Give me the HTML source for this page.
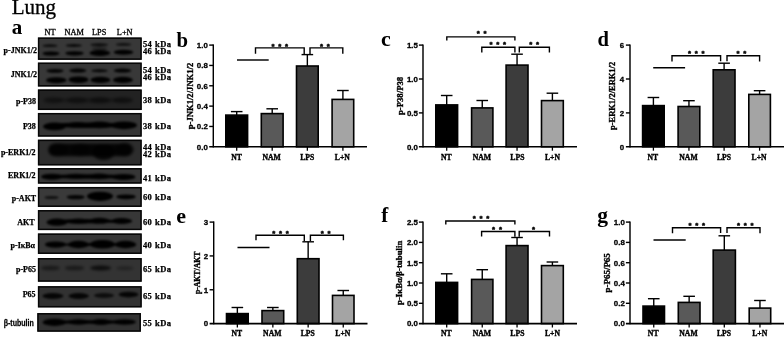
<!DOCTYPE html>
<html lang="en"><head><meta charset="utf-8"><title>Lung</title>
<style>html,body{margin:0;padding:0;background:#fff}body{width:784px;height:337px;overflow:hidden}svg{display:block}.s{font-family:"Liberation Serif", "DejaVu Serif", serif;font-weight:400}.sb{font-family:"Liberation Serif", "DejaVu Serif", serif;font-weight:700}.a{font-family:"Liberation Sans", "DejaVu Sans", sans-serif;font-weight:400}.ab{font-family:"Liberation Sans", "DejaVu Sans", sans-serif;font-weight:700}text{fill:#000}</style></head><body>
<svg width="784" height="337" viewBox="0 0 784 337">
<defs><filter id="bl0" x="-20%" y="-50%" width="140%" height="200%"><feGaussianBlur stdDeviation="1.0"/></filter><filter id="bl1" x="-20%" y="-50%" width="140%" height="200%"><feGaussianBlur stdDeviation="1.0"/></filter><filter id="bl2" x="-20%" y="-50%" width="140%" height="200%"><feGaussianBlur stdDeviation="1.6"/></filter><filter id="bl3" x="-20%" y="-50%" width="140%" height="200%"><feGaussianBlur stdDeviation="1.1"/></filter><filter id="bl4" x="-20%" y="-50%" width="140%" height="200%"><feGaussianBlur stdDeviation="1.7"/></filter><filter id="bl5" x="-20%" y="-50%" width="140%" height="200%"><feGaussianBlur stdDeviation="1.0"/></filter><filter id="bl6" x="-20%" y="-50%" width="140%" height="200%"><feGaussianBlur stdDeviation="1.0"/></filter><filter id="bl7" x="-20%" y="-50%" width="140%" height="200%"><feGaussianBlur stdDeviation="1.1"/></filter><filter id="bl8" x="-20%" y="-50%" width="140%" height="200%"><feGaussianBlur stdDeviation="1.0"/></filter><filter id="bl9" x="-20%" y="-50%" width="140%" height="200%"><feGaussianBlur stdDeviation="1.4"/></filter><filter id="bl10" x="-20%" y="-50%" width="140%" height="200%"><feGaussianBlur stdDeviation="1.3"/></filter><filter id="bl11" x="-20%" y="-50%" width="140%" height="200%"><feGaussianBlur stdDeviation="1.1"/></filter></defs>
<rect width="784" height="337" fill="#fff"/>
<text class="s" x="11.8" y="14.2" font-size="21" text-anchor="start" stroke="#000" stroke-width="0.3">Lung</text>
<text class="sb" x="11.8" y="33.8" font-size="21" text-anchor="start">a</text>
<clipPath id="cp0"><rect x="38.0" y="37.6" width="103.60" height="22.10"/></clipPath>
<rect x="38.0" y="37.6" width="103.60" height="22.10" fill="#383838"/>
<g clip-path="url(#cp0)"><g filter="url(#bl0)">
<ellipse cx="50.0" cy="45.7" rx="7.6" ry="1.4" fill="#000" opacity="0.8"/>
<ellipse cx="73.8" cy="45.5" rx="8.2" ry="1.5" fill="#000" opacity="0.85"/>
<ellipse cx="99.2" cy="44.7" rx="9.0" ry="1.5" fill="#000" opacity="0.8"/>
<ellipse cx="123.5" cy="44.4" rx="7.8" ry="1.4" fill="#000" opacity="0.75"/>
<ellipse cx="99.5" cy="48.6" rx="8.0" ry="2.0" fill="#000" opacity="0.35"/>
<ellipse cx="51.0" cy="53.5" rx="8.6" ry="2.0" fill="#000" opacity="1"/>
<ellipse cx="74.5" cy="53.3" rx="9.4" ry="2.1" fill="#000" opacity="1"/>
<ellipse cx="99.8" cy="53.0" rx="10.4" ry="3.0" fill="#000" opacity="1"/>
<ellipse cx="123.5" cy="52.3" rx="9.8" ry="2.5" fill="#000" opacity="1"/>
</g></g>
<rect x="38.6" y="38.2" width="102.40" height="20.90" fill="none" stroke="#070707" stroke-width="1.5"/>
<text class="sb" x="36.9" y="53.0" font-size="8.0" text-anchor="end" stroke="#000" stroke-width="0.25">p-JNK1/2</text>
<text class="sb" x="142.9" y="46.6" font-size="8.5" text-anchor="start" textLength="28.1" lengthAdjust="spacing" stroke="#000" stroke-width="0.25">54 kDa</text>
<text class="sb" x="142.9" y="53.8" font-size="8.5" text-anchor="start" textLength="28.1" lengthAdjust="spacing" stroke="#000" stroke-width="0.25">46 kDa</text>
<clipPath id="cp1"><rect x="38.0" y="62.7" width="103.60" height="23.70"/></clipPath>
<rect x="38.0" y="62.7" width="103.60" height="23.70" fill="#383838"/>
<g clip-path="url(#cp1)"><g filter="url(#bl1)">
<ellipse cx="55.0" cy="70.8" rx="8.6" ry="1.9" fill="#000" opacity="0.95"/>
<ellipse cx="77.8" cy="70.6" rx="8.8" ry="2.0" fill="#000" opacity="0.95"/>
<ellipse cx="99.5" cy="70.8" rx="8.4" ry="1.5" fill="#000" opacity="0.9"/>
<ellipse cx="122.5" cy="70.6" rx="9.0" ry="2.0" fill="#000" opacity="0.95"/>
<ellipse cx="56.3" cy="80.2" rx="10.3" ry="3.0" fill="#000" opacity="1"/>
<ellipse cx="78.5" cy="79.7" rx="10.0" ry="3.3" fill="#000" opacity="1"/>
<ellipse cx="100.4" cy="79.9" rx="10.0" ry="3.1" fill="#000" opacity="1"/>
<ellipse cx="122.9" cy="79.9" rx="10.0" ry="3.1" fill="#000" opacity="1"/>
</g></g>
<rect x="38.6" y="63.300000000000004" width="102.40" height="22.50" fill="none" stroke="#070707" stroke-width="1.5"/>
<text class="sb" x="36.9" y="77.2" font-size="8.0" text-anchor="end" stroke="#000" stroke-width="0.25">JNK1/2</text>
<text class="sb" x="142.9" y="72.6" font-size="8.5" text-anchor="start" textLength="28.1" lengthAdjust="spacing" stroke="#000" stroke-width="0.25">54 kDa</text>
<text class="sb" x="142.9" y="79.8" font-size="8.5" text-anchor="start" textLength="28.1" lengthAdjust="spacing" stroke="#000" stroke-width="0.25">46 kDa</text>
<clipPath id="cp2"><rect x="38.0" y="89.6" width="103.60" height="20.30"/></clipPath>
<rect x="38.0" y="89.6" width="103.60" height="20.30" fill="#222222"/>
<g clip-path="url(#cp2)"><g filter="url(#bl2)">
<ellipse cx="53" cy="100.3" rx="10" ry="3.2" fill="#000" opacity="0.35"/>
<ellipse cx="77" cy="100.3" rx="10" ry="3.2" fill="#000" opacity="0.35"/>
<ellipse cx="100" cy="100.3" rx="10" ry="3.2" fill="#000" opacity="0.4"/>
<ellipse cx="123" cy="100.3" rx="10" ry="3.2" fill="#000" opacity="0.4"/>
<ellipse cx="89" cy="100.3" rx="44" ry="2.5" fill="#000" opacity="0.3"/>
</g></g>
<rect x="38.6" y="90.19999999999999" width="102.40" height="19.10" fill="none" stroke="#070707" stroke-width="1.5"/>
<text class="sb" x="36.0" y="103.6" font-size="8.0" text-anchor="end" stroke="#000" stroke-width="0.25">p-P38</text>
<text class="sb" x="142.9" y="103.3" font-size="8.5" text-anchor="start" textLength="28.1" lengthAdjust="spacing" stroke="#000" stroke-width="0.25">38 kDa</text>
<clipPath id="cp3"><rect x="38.0" y="113.1" width="103.60" height="23.40"/></clipPath>
<rect x="38.0" y="113.1" width="103.60" height="23.40" fill="#353535"/>
<g clip-path="url(#cp3)"><g filter="url(#bl3)">
<ellipse cx="54.5" cy="126.4" rx="11.5" ry="3.9" fill="#000" opacity="1"/>
<ellipse cx="77.5" cy="125.0" rx="11.5" ry="3.0" fill="#000" opacity="1"/>
<ellipse cx="99.5" cy="124.9" rx="12.0" ry="3.3" fill="#000" opacity="1"/>
<ellipse cx="124.0" cy="125.3" rx="13.0" ry="3.9" fill="#000" opacity="1"/>
<ellipse cx="89" cy="125.2" rx="44" ry="2.7" fill="#000" opacity="1"/>
</g></g>
<rect x="38.6" y="113.69999999999999" width="102.40" height="22.20" fill="none" stroke="#070707" stroke-width="1.5"/>
<text class="sb" x="35.8" y="129.0" font-size="8.0" text-anchor="end" stroke="#000" stroke-width="0.25">P38</text>
<text class="sb" x="142.9" y="129.3" font-size="8.5" text-anchor="start" textLength="28.1" lengthAdjust="spacing" stroke="#000" stroke-width="0.25">38 kDa</text>
<clipPath id="cp4"><rect x="38.0" y="139.8" width="103.60" height="25.50"/></clipPath>
<rect x="38.0" y="139.8" width="103.60" height="25.50" fill="#2d2d2d"/>
<g clip-path="url(#cp4)"><g filter="url(#bl4)">
<rect x="48.5" y="143.6" width="83.5" height="12.6" rx="6" fill="#000" opacity="0.88"/>
<ellipse cx="58.5" cy="149.8" rx="10.5" ry="6.8" fill="#000" opacity="0.6"/>
<ellipse cx="80.5" cy="149.8" rx="10.5" ry="6.8" fill="#000" opacity="0.55"/>
<ellipse cx="103.5" cy="152.0" rx="11.5" ry="8.0" fill="#000" opacity="0.85"/>
<ellipse cx="124.5" cy="149.6" rx="9.5" ry="7.0" fill="#000" opacity="0.6"/>
</g></g>
<rect x="38.6" y="140.4" width="102.40" height="24.30" fill="none" stroke="#070707" stroke-width="1.5"/>
<text class="sb" x="35.6" y="154.8" font-size="8.0" text-anchor="end" stroke="#000" stroke-width="0.25">p-ERK1/2</text>
<text class="sb" x="142.9" y="149.8" font-size="8.5" text-anchor="start" textLength="28.1" lengthAdjust="spacing" stroke="#000" stroke-width="0.25">44 kDa</text>
<text class="sb" x="142.9" y="157.3" font-size="8.5" text-anchor="start" textLength="28.1" lengthAdjust="spacing" stroke="#000" stroke-width="0.25">42 kDa</text>
<clipPath id="cp5"><rect x="38.0" y="168.2" width="103.60" height="15.30"/></clipPath>
<rect x="38.0" y="168.2" width="103.60" height="15.30" fill="#363636"/>
<g clip-path="url(#cp5)"><g filter="url(#bl5)">
<ellipse cx="52" cy="176.7" rx="11.0" ry="3.0" fill="#000" opacity="1"/>
<ellipse cx="76" cy="176.4" rx="11.0" ry="2.7" fill="#000" opacity="1"/>
<ellipse cx="99" cy="176.4" rx="11.0" ry="2.8" fill="#000" opacity="1"/>
<ellipse cx="123.5" cy="176.9" rx="12.0" ry="3.0" fill="#000" opacity="1"/>
<ellipse cx="88" cy="176.5" rx="46" ry="2.2" fill="#000" opacity="1"/>
</g></g>
<rect x="38.6" y="168.79999999999998" width="102.40" height="14.10" fill="none" stroke="#070707" stroke-width="1.5"/>
<text class="sb" x="35.6" y="178.0" font-size="8.0" text-anchor="end" stroke="#000" stroke-width="0.25">ERK1/2</text>
<text class="sb" x="142.9" y="180.6" font-size="8.5" text-anchor="start" textLength="28.1" lengthAdjust="spacing" stroke="#000" stroke-width="0.25">41 kDa</text>
<clipPath id="cp6"><rect x="38.0" y="187.1" width="103.60" height="19.70"/></clipPath>
<rect x="38.0" y="187.1" width="103.60" height="19.70" fill="#3a3a3a"/>
<g clip-path="url(#cp6)"><g filter="url(#bl6)">
<ellipse cx="51.6" cy="197.5" rx="7.2" ry="1.3" fill="#000" opacity="0.85"/>
<ellipse cx="75.7" cy="197.1" rx="9.2" ry="2.2" fill="#000" opacity="0.95"/>
<ellipse cx="100.0" cy="196.3" rx="13.0" ry="4.6" fill="#000" opacity="1"/>
<ellipse cx="126" cy="196.8" rx="9.8" ry="2.4" fill="#000" opacity="1"/>
</g></g>
<rect x="38.6" y="187.7" width="102.40" height="18.50" fill="none" stroke="#070707" stroke-width="1.5"/>
<text class="sb" x="36.2" y="200.5" font-size="8.0" text-anchor="end" stroke="#000" stroke-width="0.25">p-AKT</text>
<text class="sb" x="142.9" y="199.5" font-size="8.5" text-anchor="start" textLength="28.1" lengthAdjust="spacing" stroke="#000" stroke-width="0.25">60 kDa</text>
<clipPath id="cp7"><rect x="38.0" y="210.2" width="103.60" height="19.80"/></clipPath>
<rect x="38.0" y="210.2" width="103.60" height="19.80" fill="#373737"/>
<g clip-path="url(#cp7)"><g filter="url(#bl7)">
<ellipse cx="57" cy="222.2" rx="10.5" ry="3.6" fill="#000" opacity="1"/>
<ellipse cx="78.5" cy="221.3" rx="11.5" ry="2.7" fill="#000" opacity="1"/>
<ellipse cx="99.5" cy="220.8" rx="10.5" ry="3.0" fill="#000" opacity="1"/>
<ellipse cx="121.5" cy="221.0" rx="10.7" ry="3.0" fill="#000" opacity="1"/>
<ellipse cx="84" cy="221.3" rx="34" ry="2.2" fill="#000" opacity="1"/>
<ellipse cx="110" cy="221.0" rx="6" ry="1.2" fill="#000" opacity="1"/>
</g></g>
<rect x="38.6" y="210.79999999999998" width="102.40" height="18.60" fill="none" stroke="#070707" stroke-width="1.5"/>
<text class="sb" x="34.6" y="225.2" font-size="8.0" text-anchor="end" stroke="#000" stroke-width="0.25">AKT</text>
<text class="sb" x="142.9" y="224.5" font-size="8.5" text-anchor="start" textLength="28.1" lengthAdjust="spacing" stroke="#000" stroke-width="0.25">60 kDa</text>
<clipPath id="cp8"><rect x="38.0" y="233.6" width="103.60" height="20.20"/></clipPath>
<rect x="38.0" y="233.6" width="103.60" height="20.20" fill="#363636"/>
<g clip-path="url(#cp8)"><g filter="url(#bl8)">
<ellipse cx="55.5" cy="244.6" rx="10.6" ry="3.2" fill="#000" opacity="1"/>
<ellipse cx="78.5" cy="244.5" rx="10.6" ry="3.7" fill="#000" opacity="1"/>
<ellipse cx="102.5" cy="244.3" rx="12.6" ry="4.3" fill="#000" opacity="1"/>
<ellipse cx="125.5" cy="244.5" rx="10.8" ry="3.7" fill="#000" opacity="1"/>
<ellipse cx="90" cy="244.5" rx="40" ry="1.4" fill="#000" opacity="0.9"/>
</g></g>
<rect x="38.6" y="234.2" width="102.40" height="19.00" fill="none" stroke="#070707" stroke-width="1.5"/>
<text class="sb" x="35.0" y="247.8" font-size="8.0" text-anchor="end" stroke="#000" stroke-width="0.25">p-IκBα</text>
<text class="sb" x="142.9" y="247.8" font-size="8.5" text-anchor="start" textLength="28.1" lengthAdjust="spacing" stroke="#000" stroke-width="0.25">40 kDa</text>
<clipPath id="cp9"><rect x="38.0" y="258.2" width="103.60" height="23.40"/></clipPath>
<rect x="38.0" y="258.2" width="103.60" height="23.40" fill="#333333"/>
<g clip-path="url(#cp9)"><g filter="url(#bl9)">
<ellipse cx="50.5" cy="268.0" rx="9.5" ry="2.3" fill="#000" opacity="0.5"/>
<ellipse cx="74.5" cy="268.0" rx="9.8" ry="2.3" fill="#000" opacity="0.5"/>
<ellipse cx="100.7" cy="268.0" rx="10.5" ry="2.6" fill="#000" opacity="0.75"/>
<ellipse cx="124.8" cy="268.2" rx="8.8" ry="2.0" fill="#000" opacity="0.35"/>
</g></g>
<rect x="38.6" y="258.8" width="102.40" height="22.20" fill="none" stroke="#070707" stroke-width="1.5"/>
<text class="sb" x="36.0" y="271.6" font-size="8.0" text-anchor="end" stroke="#000" stroke-width="0.25">p-P65</text>
<text class="sb" x="142.9" y="271.6" font-size="8.5" text-anchor="start" textLength="28.1" lengthAdjust="spacing" stroke="#000" stroke-width="0.25">65 kDa</text>
<clipPath id="cp10"><rect x="38.0" y="286.3" width="103.60" height="21.00"/></clipPath>
<rect x="38.0" y="286.3" width="103.60" height="21.00" fill="#323232"/>
<g clip-path="url(#cp10)"><g filter="url(#bl10)">
<ellipse cx="52.9" cy="296.0" rx="10.6" ry="2.9" fill="#000" opacity="0.9"/>
<ellipse cx="78.7" cy="296.0" rx="10.3" ry="2.9" fill="#000" opacity="0.9"/>
<ellipse cx="104.0" cy="295.5" rx="10.0" ry="2.5" fill="#000" opacity="0.75"/>
<ellipse cx="128.5" cy="294.6" rx="10.0" ry="2.8" fill="#000" opacity="0.9"/>
</g></g>
<rect x="38.6" y="286.90000000000003" width="102.40" height="19.80" fill="none" stroke="#070707" stroke-width="1.5"/>
<text class="sb" x="35.6" y="297.3" font-size="8.0" text-anchor="end" stroke="#000" stroke-width="0.25">P65</text>
<text class="sb" x="142.9" y="298.8" font-size="8.5" text-anchor="start" textLength="28.1" lengthAdjust="spacing" stroke="#000" stroke-width="0.25">65 kDa</text>
<clipPath id="cp11"><rect x="37.4" y="313.2" width="103.40" height="18.40"/></clipPath>
<rect x="37.4" y="313.2" width="103.40" height="18.40" fill="#323232"/>
<g clip-path="url(#cp11)"><g filter="url(#bl11)">
<ellipse cx="54.5" cy="322.3" rx="12.0" ry="3.6" fill="#000" opacity="1"/>
<ellipse cx="78.5" cy="322.0" rx="10.5" ry="2.7" fill="#000" opacity="1"/>
<ellipse cx="101.0" cy="322.0" rx="10.5" ry="3.0" fill="#000" opacity="1"/>
<ellipse cx="124.5" cy="322.0" rx="11.5" ry="2.8" fill="#000" opacity="1"/>
<ellipse cx="90" cy="322.0" rx="44" ry="1.8" fill="#000" opacity="1"/>
</g></g>
<rect x="38.0" y="313.8" width="102.20" height="17.20" fill="none" stroke="#070707" stroke-width="1.5"/>
<text class="ab" x="33.8" y="325.6" font-size="8.6" text-anchor="end" stroke="#000" stroke-width="0.25" transform="translate(33.80 0) scale(0.82 1) translate(-33.80 0)">β-tubulin</text>
<text class="sb" x="142.9" y="325.9" font-size="8.5" text-anchor="start" textLength="28.1" lengthAdjust="spacing" stroke="#000" stroke-width="0.25">55 kDa</text>
<text class="s" x="50.0" y="35.0" font-size="8.3" text-anchor="middle" stroke="#000" stroke-width="0.3">NT</text>
<text class="s" x="74.3" y="35.0" font-size="8.3" text-anchor="middle" stroke="#000" stroke-width="0.3">NAM</text>
<text class="s" x="99.2" y="35.0" font-size="8.3" text-anchor="middle" stroke="#000" stroke-width="0.3">LPS</text>
<text class="s" x="124.7" y="35.0" font-size="8.3" text-anchor="middle" stroke="#000" stroke-width="0.3">L+N</text>
<text class="sb" x="176.4" y="46.7" font-size="20.8" text-anchor="start">b</text>
<path d="M213.30 44.40L213.30 147.50" stroke="#000" stroke-width="1.45" fill="none"/>
<text class="ab" x="207.8" y="149.60000000000002" font-size="7.9" text-anchor="end" stroke="#000" stroke-width="0.3">0.0</text>
<path d="M209.20 126.46L213.30 126.46" stroke="#000" stroke-width="1.4" fill="none"/>
<text class="ab" x="207.8" y="129.26000000000002" font-size="7.9" text-anchor="end" stroke="#000" stroke-width="0.3">0.2</text>
<path d="M209.20 106.12L213.30 106.12" stroke="#000" stroke-width="1.4" fill="none"/>
<text class="ab" x="207.8" y="108.92" font-size="7.9" text-anchor="end" stroke="#000" stroke-width="0.3">0.4</text>
<path d="M209.20 85.78L213.30 85.78" stroke="#000" stroke-width="1.4" fill="none"/>
<text class="ab" x="207.8" y="88.58" font-size="7.9" text-anchor="end" stroke="#000" stroke-width="0.3">0.6</text>
<path d="M209.20 65.44L213.30 65.44" stroke="#000" stroke-width="1.4" fill="none"/>
<text class="ab" x="207.8" y="68.24" font-size="7.9" text-anchor="end" stroke="#000" stroke-width="0.3">0.8</text>
<path d="M209.20 45.10L213.30 45.10" stroke="#000" stroke-width="1.4" fill="none"/>
<text class="ab" x="207.8" y="47.89999999999999" font-size="7.9" text-anchor="end" stroke="#000" stroke-width="0.3">1.0</text>
<text class="sb" font-size="8.3" text-anchor="middle" textLength="66.5" lengthAdjust="spacingAndGlyphs" stroke="#000" stroke-width="0.35" transform="translate(193.0 95.95) rotate(-90)">p-JNK1/2/JNK1/2</text>
<path d="M236.70 111.60L236.70 115.30" stroke="#000" stroke-width="1.4" fill="none"/>
<path d="M230.90 111.60L242.50 111.60" stroke="#000" stroke-width="1.4" fill="none"/>
<rect x="225.80" y="115.10" width="21.80" height="31.70" fill="#000000" stroke="#000" stroke-width="1.6"/>
<path d="M236.70 146.80L236.70 150.70" stroke="#000" stroke-width="1.3" fill="none"/>
<path d="M272.20 108.80L272.20 113.80" stroke="#000" stroke-width="1.4" fill="none"/>
<path d="M266.40 108.80L278.00 108.80" stroke="#000" stroke-width="1.4" fill="none"/>
<rect x="261.30" y="113.60" width="21.80" height="33.20" fill="#595959" stroke="#000" stroke-width="1.6"/>
<path d="M272.20 146.80L272.20 150.70" stroke="#000" stroke-width="1.3" fill="none"/>
<path d="M307.35 54.60L307.35 66.20" stroke="#000" stroke-width="1.4" fill="none"/>
<path d="M301.55 54.60L313.15 54.60" stroke="#000" stroke-width="1.4" fill="none"/>
<rect x="296.50" y="66.00" width="21.70" height="80.80" fill="#3c3c3c" stroke="#000" stroke-width="1.6"/>
<path d="M307.35 146.80L307.35 150.70" stroke="#000" stroke-width="1.3" fill="none"/>
<path d="M342.90 90.50L342.90 99.60" stroke="#000" stroke-width="1.4" fill="none"/>
<path d="M337.10 90.50L348.70 90.50" stroke="#000" stroke-width="1.4" fill="none"/>
<rect x="332.10" y="99.40" width="21.60" height="47.40" fill="#a4a4a4" stroke="#000" stroke-width="1.6"/>
<path d="M342.90 146.80L342.90 150.70" stroke="#000" stroke-width="1.3" fill="none"/>
<path d="M209.20 146.80L367.00 146.80" stroke="#000" stroke-width="1.6" fill="none"/>
<text class="sb" x="236.5" y="159.6" font-size="7.7" text-anchor="middle" stroke="#000" stroke-width="0.35">NT</text>
<text class="sb" x="271.7" y="159.6" font-size="7.7" text-anchor="middle" stroke="#000" stroke-width="0.35">NAM</text>
<text class="sb" x="307.2" y="159.6" font-size="7.7" text-anchor="middle" stroke="#000" stroke-width="0.35">LPS</text>
<text class="sb" x="342.3" y="159.6" font-size="7.7" text-anchor="middle" stroke="#000" stroke-width="0.35">L+N</text>
<path d="M255.5 53.8V47.9H304.2V54.0" stroke="#000" stroke-width="1.4" fill="none"/>
<path d="M310.0 54.0V47.9H342.8V53.8" stroke="#000" stroke-width="1.4" fill="none"/>
<path d="M237.00 60.00L268.70 60.00" stroke="#000" stroke-width="1.45" fill="none"/>
<text class="ab" x="272.90 279.70 286.50" y="49.00" font-size="7.8" text-anchor="middle" stroke="#000" stroke-width="0.45">***</text>
<text class="ab" x="321.50 328.30" y="49.00" font-size="7.8" text-anchor="middle" stroke="#000" stroke-width="0.45">**</text>
<text class="sb" x="380.9" y="46.0" font-size="22" text-anchor="start">c</text>
<path d="M423.00 44.40L423.00 147.50" stroke="#000" stroke-width="1.45" fill="none"/>
<text class="ab" x="417.9" y="149.60000000000002" font-size="7.9" text-anchor="end" stroke="#000" stroke-width="0.3">0.0</text>
<path d="M418.90 112.90L423.00 112.90" stroke="#000" stroke-width="1.4" fill="none"/>
<text class="ab" x="417.9" y="115.7" font-size="7.9" text-anchor="end" stroke="#000" stroke-width="0.3">0.5</text>
<path d="M418.90 79.00L423.00 79.00" stroke="#000" stroke-width="1.4" fill="none"/>
<text class="ab" x="417.9" y="81.8" font-size="7.9" text-anchor="end" stroke="#000" stroke-width="0.3">1.0</text>
<path d="M418.90 45.10L423.00 45.10" stroke="#000" stroke-width="1.4" fill="none"/>
<text class="ab" x="417.9" y="47.900000000000006" font-size="7.9" text-anchor="end" stroke="#000" stroke-width="0.3">1.5</text>
<text class="sb" font-size="8.3" text-anchor="middle" textLength="38.3" lengthAdjust="spacingAndGlyphs" stroke="#000" stroke-width="0.35" transform="translate(402.7 95.95) rotate(-90)">p-P38/P38</text>
<path d="M446.70 95.50L446.70 105.10" stroke="#000" stroke-width="1.4" fill="none"/>
<path d="M440.90 95.50L452.50 95.50" stroke="#000" stroke-width="1.4" fill="none"/>
<rect x="435.80" y="104.90" width="21.80" height="41.90" fill="#000000" stroke="#000" stroke-width="1.6"/>
<path d="M446.70 146.80L446.70 150.70" stroke="#000" stroke-width="1.3" fill="none"/>
<path d="M482.25 100.50L482.25 108.10" stroke="#000" stroke-width="1.4" fill="none"/>
<path d="M476.45 100.50L488.05 100.50" stroke="#000" stroke-width="1.4" fill="none"/>
<rect x="471.60" y="107.90" width="21.30" height="38.90" fill="#595959" stroke="#000" stroke-width="1.6"/>
<path d="M482.25 146.80L482.25 150.70" stroke="#000" stroke-width="1.3" fill="none"/>
<path d="M517.05 54.20L517.05 65.30" stroke="#000" stroke-width="1.4" fill="none"/>
<path d="M511.25 54.20L522.85 54.20" stroke="#000" stroke-width="1.4" fill="none"/>
<rect x="506.10" y="65.10" width="21.90" height="81.70" fill="#3c3c3c" stroke="#000" stroke-width="1.6"/>
<path d="M517.05 146.80L517.05 150.70" stroke="#000" stroke-width="1.3" fill="none"/>
<path d="M552.40 93.20L552.40 100.80" stroke="#000" stroke-width="1.4" fill="none"/>
<path d="M546.60 93.20L558.20 93.20" stroke="#000" stroke-width="1.4" fill="none"/>
<rect x="541.50" y="100.60" width="21.80" height="46.20" fill="#a4a4a4" stroke="#000" stroke-width="1.6"/>
<path d="M552.40 146.80L552.40 150.70" stroke="#000" stroke-width="1.3" fill="none"/>
<path d="M418.90 146.80L577.00 146.80" stroke="#000" stroke-width="1.6" fill="none"/>
<text class="sb" x="446.3" y="159.6" font-size="7.7" text-anchor="middle" stroke="#000" stroke-width="0.35">NT</text>
<text class="sb" x="481.9" y="159.6" font-size="7.7" text-anchor="middle" stroke="#000" stroke-width="0.35">NAM</text>
<text class="sb" x="517.4000000000001" y="159.6" font-size="7.7" text-anchor="middle" stroke="#000" stroke-width="0.35">LPS</text>
<text class="sb" x="552.5" y="159.6" font-size="7.7" text-anchor="middle" stroke="#000" stroke-width="0.35">L+N</text>
<path d="M446.8 40.6V36.9H514.9V40.6" stroke="#000" stroke-width="1.4" fill="none"/>
<path d="M481.8 52.5V47.3H514.9V52.6" stroke="#000" stroke-width="1.4" fill="none"/>
<path d="M519.3 52.6V47.3H549.4V52.5" stroke="#000" stroke-width="1.4" fill="none"/>
<text class="ab" x="478.20 485.00" y="35.90" font-size="7.8" text-anchor="middle" stroke="#000" stroke-width="0.45">**</text>
<text class="ab" x="491.00 497.80 504.60" y="47.10" font-size="7.8" text-anchor="middle" stroke="#000" stroke-width="0.45">***</text>
<text class="ab" x="530.80 537.60" y="47.10" font-size="7.8" text-anchor="middle" stroke="#000" stroke-width="0.45">**</text>
<text class="sb" x="597.5" y="46.1" font-size="20.6" text-anchor="start">d</text>
<path d="M630.00 44.40L630.00 147.50" stroke="#000" stroke-width="1.45" fill="none"/>
<text class="ab" x="624.1" y="149.60000000000002" font-size="7.9" text-anchor="end" stroke="#000" stroke-width="0.3">0</text>
<path d="M625.90 112.90L630.00 112.90" stroke="#000" stroke-width="1.4" fill="none"/>
<text class="ab" x="624.1" y="115.7" font-size="7.9" text-anchor="end" stroke="#000" stroke-width="0.3">2</text>
<path d="M625.90 79.00L630.00 79.00" stroke="#000" stroke-width="1.4" fill="none"/>
<text class="ab" x="624.1" y="81.8" font-size="7.9" text-anchor="end" stroke="#000" stroke-width="0.3">4</text>
<path d="M625.90 45.10L630.00 45.10" stroke="#000" stroke-width="1.4" fill="none"/>
<text class="ab" x="624.1" y="47.900000000000006" font-size="7.9" text-anchor="end" stroke="#000" stroke-width="0.3">6</text>
<text class="sb" font-size="8.3" text-anchor="middle" textLength="68.2" lengthAdjust="spacingAndGlyphs" stroke="#000" stroke-width="0.35" transform="translate(615.3 95.95) rotate(-90)">p-ERK1/2/ERK1/2</text>
<path d="M653.40 97.50L653.40 105.80" stroke="#000" stroke-width="1.4" fill="none"/>
<path d="M647.60 97.50L659.20 97.50" stroke="#000" stroke-width="1.4" fill="none"/>
<rect x="642.60" y="105.60" width="21.60" height="41.20" fill="#000000" stroke="#000" stroke-width="1.6"/>
<path d="M653.40 146.80L653.40 150.70" stroke="#000" stroke-width="1.3" fill="none"/>
<path d="M688.95 100.70L688.95 106.70" stroke="#000" stroke-width="1.4" fill="none"/>
<path d="M683.15 100.70L694.75 100.70" stroke="#000" stroke-width="1.4" fill="none"/>
<rect x="678.10" y="106.50" width="21.70" height="40.30" fill="#595959" stroke="#000" stroke-width="1.6"/>
<path d="M688.95 146.80L688.95 150.70" stroke="#000" stroke-width="1.3" fill="none"/>
<path d="M724.10 63.20L724.10 70.00" stroke="#000" stroke-width="1.4" fill="none"/>
<path d="M718.30 63.20L729.90 63.20" stroke="#000" stroke-width="1.4" fill="none"/>
<rect x="713.20" y="69.80" width="21.80" height="77.00" fill="#3c3c3c" stroke="#000" stroke-width="1.6"/>
<path d="M724.10 146.80L724.10 150.70" stroke="#000" stroke-width="1.3" fill="none"/>
<path d="M759.60 90.70L759.60 94.60" stroke="#000" stroke-width="1.4" fill="none"/>
<path d="M753.80 90.70L765.40 90.70" stroke="#000" stroke-width="1.4" fill="none"/>
<rect x="748.80" y="94.40" width="21.60" height="52.40" fill="#a4a4a4" stroke="#000" stroke-width="1.6"/>
<path d="M759.60 146.80L759.60 150.70" stroke="#000" stroke-width="1.3" fill="none"/>
<path d="M625.90 146.80L786.00 146.80" stroke="#000" stroke-width="1.6" fill="none"/>
<text class="sb" x="652.9000000000001" y="159.6" font-size="7.7" text-anchor="middle" stroke="#000" stroke-width="0.35">NT</text>
<text class="sb" x="688.5" y="159.6" font-size="7.7" text-anchor="middle" stroke="#000" stroke-width="0.35">NAM</text>
<text class="sb" x="724.0" y="159.6" font-size="7.7" text-anchor="middle" stroke="#000" stroke-width="0.35">LPS</text>
<text class="sb" x="759.1" y="159.6" font-size="7.7" text-anchor="middle" stroke="#000" stroke-width="0.35">L+N</text>
<path d="M672.0 61.4V55.8H720.6V61.2" stroke="#000" stroke-width="1.4" fill="none"/>
<path d="M727.0 61.2V55.8H759.6V61.4" stroke="#000" stroke-width="1.4" fill="none"/>
<path d="M653.20 67.75L685.10 67.75" stroke="#000" stroke-width="1.45" fill="none"/>
<text class="ab" x="689.40 696.20 703.00" y="56.40" font-size="7.8" text-anchor="middle" stroke="#000" stroke-width="0.45">***</text>
<text class="ab" x="737.90 744.70" y="56.40" font-size="7.8" text-anchor="middle" stroke="#000" stroke-width="0.45">**</text>
<text class="sb" x="176.3" y="222.5" font-size="22" text-anchor="start">e</text>
<path d="M213.70 221.40L213.70 324.30" stroke="#000" stroke-width="1.45" fill="none"/>
<text class="ab" x="208.1" y="326.40000000000003" font-size="7.9" text-anchor="end" stroke="#000" stroke-width="0.3">0</text>
<path d="M209.60 289.77L213.70 289.77" stroke="#000" stroke-width="1.4" fill="none"/>
<text class="ab" x="208.1" y="292.56666666666666" font-size="7.9" text-anchor="end" stroke="#000" stroke-width="0.3">1</text>
<path d="M209.60 255.93L213.70 255.93" stroke="#000" stroke-width="1.4" fill="none"/>
<text class="ab" x="208.1" y="258.73333333333335" font-size="7.9" text-anchor="end" stroke="#000" stroke-width="0.3">2</text>
<path d="M209.60 222.10L213.70 222.10" stroke="#000" stroke-width="1.4" fill="none"/>
<text class="ab" x="208.1" y="224.89999999999998" font-size="7.9" text-anchor="end" stroke="#000" stroke-width="0.3">3</text>
<text class="sb" font-size="8.3" text-anchor="middle" textLength="42.5" lengthAdjust="spacingAndGlyphs" stroke="#000" stroke-width="0.35" transform="translate(199.8 272.85) rotate(-90)">p-AKT/AKT</text>
<path d="M237.35 307.50L237.35 313.80" stroke="#000" stroke-width="1.4" fill="none"/>
<path d="M231.55 307.50L243.15 307.50" stroke="#000" stroke-width="1.4" fill="none"/>
<rect x="226.50" y="313.60" width="21.70" height="10.00" fill="#000000" stroke="#000" stroke-width="1.6"/>
<path d="M237.35 323.60L237.35 327.50" stroke="#000" stroke-width="1.3" fill="none"/>
<path d="M272.85 307.50L272.85 310.80" stroke="#000" stroke-width="1.4" fill="none"/>
<path d="M267.05 307.50L278.65 307.50" stroke="#000" stroke-width="1.4" fill="none"/>
<rect x="262.00" y="310.60" width="21.70" height="13.00" fill="#595959" stroke="#000" stroke-width="1.6"/>
<path d="M272.85 323.60L272.85 327.50" stroke="#000" stroke-width="1.3" fill="none"/>
<path d="M308.15 241.80L308.15 258.90" stroke="#000" stroke-width="1.4" fill="none"/>
<path d="M302.35 241.80L313.95 241.80" stroke="#000" stroke-width="1.4" fill="none"/>
<rect x="297.30" y="258.70" width="21.70" height="64.90" fill="#3c3c3c" stroke="#000" stroke-width="1.6"/>
<path d="M308.15 323.60L308.15 327.50" stroke="#000" stroke-width="1.3" fill="none"/>
<path d="M343.25 290.50L343.25 295.60" stroke="#000" stroke-width="1.4" fill="none"/>
<path d="M337.45 290.50L349.05 290.50" stroke="#000" stroke-width="1.4" fill="none"/>
<rect x="332.50" y="295.40" width="21.50" height="28.20" fill="#a4a4a4" stroke="#000" stroke-width="1.6"/>
<path d="M343.25 323.60L343.25 327.50" stroke="#000" stroke-width="1.3" fill="none"/>
<path d="M209.60 323.60L367.50 323.60" stroke="#000" stroke-width="1.6" fill="none"/>
<text class="sb" x="236.89999999999998" y="336.3" font-size="7.7" text-anchor="middle" stroke="#000" stroke-width="0.35">NT</text>
<text class="sb" x="272.3" y="336.3" font-size="7.7" text-anchor="middle" stroke="#000" stroke-width="0.35">NAM</text>
<text class="sb" x="307.7" y="336.3" font-size="7.7" text-anchor="middle" stroke="#000" stroke-width="0.35">LPS</text>
<text class="sb" x="342.8" y="336.3" font-size="7.7" text-anchor="middle" stroke="#000" stroke-width="0.35">L+N</text>
<path d="M256.0 240.3V235.3H304.3V241.0" stroke="#000" stroke-width="1.4" fill="none"/>
<path d="M310.4 241.0V235.3H343.4V240.3" stroke="#000" stroke-width="1.4" fill="none"/>
<path d="M237.50 247.40L269.50 247.40" stroke="#000" stroke-width="1.45" fill="none"/>
<text class="ab" x="273.70 280.50 287.30" y="235.80" font-size="7.8" text-anchor="middle" stroke="#000" stroke-width="0.45">***</text>
<text class="ab" x="322.20 329.00" y="235.80" font-size="7.8" text-anchor="middle" stroke="#000" stroke-width="0.45">**</text>
<text class="sb" x="381.3" y="222.4" font-size="21" text-anchor="start">f</text>
<path d="M423.00 221.40L423.00 324.30" stroke="#000" stroke-width="1.45" fill="none"/>
<text class="ab" x="417.9" y="326.40000000000003" font-size="7.9" text-anchor="end" stroke="#000" stroke-width="0.3">0.0</text>
<path d="M418.90 303.30L423.00 303.30" stroke="#000" stroke-width="1.4" fill="none"/>
<text class="ab" x="417.9" y="306.1" font-size="7.9" text-anchor="end" stroke="#000" stroke-width="0.3">0.5</text>
<path d="M418.90 283.00L423.00 283.00" stroke="#000" stroke-width="1.4" fill="none"/>
<text class="ab" x="417.9" y="285.8" font-size="7.9" text-anchor="end" stroke="#000" stroke-width="0.3">1.0</text>
<path d="M418.90 262.70L423.00 262.70" stroke="#000" stroke-width="1.4" fill="none"/>
<text class="ab" x="417.9" y="265.5" font-size="7.9" text-anchor="end" stroke="#000" stroke-width="0.3">1.5</text>
<path d="M418.90 242.40L423.00 242.40" stroke="#000" stroke-width="1.4" fill="none"/>
<text class="ab" x="417.9" y="245.20000000000002" font-size="7.9" text-anchor="end" stroke="#000" stroke-width="0.3">2.0</text>
<path d="M418.90 222.10L423.00 222.10" stroke="#000" stroke-width="1.4" fill="none"/>
<text class="ab" x="417.9" y="224.9" font-size="7.9" text-anchor="end" stroke="#000" stroke-width="0.3">2.5</text>
<text class="sb" font-size="8.3" text-anchor="middle" textLength="64.3" lengthAdjust="spacingAndGlyphs" stroke="#000" stroke-width="0.35" transform="translate(402.2 272.85) rotate(-90)">p-IκBα/β-tubulin</text>
<path d="M446.70 273.80L446.70 282.60" stroke="#000" stroke-width="1.4" fill="none"/>
<path d="M440.90 273.80L452.50 273.80" stroke="#000" stroke-width="1.4" fill="none"/>
<rect x="435.80" y="282.40" width="21.80" height="41.20" fill="#000000" stroke="#000" stroke-width="1.6"/>
<path d="M446.70 323.60L446.70 327.50" stroke="#000" stroke-width="1.3" fill="none"/>
<path d="M482.25 269.70L482.25 279.60" stroke="#000" stroke-width="1.4" fill="none"/>
<path d="M476.45 269.70L488.05 269.70" stroke="#000" stroke-width="1.4" fill="none"/>
<rect x="471.60" y="279.40" width="21.30" height="44.20" fill="#595959" stroke="#000" stroke-width="1.6"/>
<path d="M482.25 323.60L482.25 327.50" stroke="#000" stroke-width="1.3" fill="none"/>
<path d="M517.05 237.50L517.05 245.80" stroke="#000" stroke-width="1.4" fill="none"/>
<path d="M511.25 237.50L522.85 237.50" stroke="#000" stroke-width="1.4" fill="none"/>
<rect x="506.10" y="245.60" width="21.90" height="78.00" fill="#3c3c3c" stroke="#000" stroke-width="1.6"/>
<path d="M517.05 323.60L517.05 327.50" stroke="#000" stroke-width="1.3" fill="none"/>
<path d="M552.40 262.00L552.40 265.80" stroke="#000" stroke-width="1.4" fill="none"/>
<path d="M546.60 262.00L558.20 262.00" stroke="#000" stroke-width="1.4" fill="none"/>
<rect x="541.50" y="265.60" width="21.80" height="58.00" fill="#a4a4a4" stroke="#000" stroke-width="1.6"/>
<path d="M552.40 323.60L552.40 327.50" stroke="#000" stroke-width="1.3" fill="none"/>
<path d="M418.90 323.60L577.00 323.60" stroke="#000" stroke-width="1.6" fill="none"/>
<text class="sb" x="446.3" y="336.3" font-size="7.7" text-anchor="middle" stroke="#000" stroke-width="0.35">NT</text>
<text class="sb" x="481.9" y="336.3" font-size="7.7" text-anchor="middle" stroke="#000" stroke-width="0.35">NAM</text>
<text class="sb" x="517.4000000000001" y="336.3" font-size="7.7" text-anchor="middle" stroke="#000" stroke-width="0.35">LPS</text>
<text class="sb" x="552.5" y="336.3" font-size="7.7" text-anchor="middle" stroke="#000" stroke-width="0.35">L+N</text>
<path d="M445.8 224.5V221.0H514.9V224.5" stroke="#000" stroke-width="1.4" fill="none"/>
<path d="M481.6 236.6V231.5H514.9V236.8" stroke="#000" stroke-width="1.4" fill="none"/>
<path d="M519.2 236.8V231.5H549.5V236.6" stroke="#000" stroke-width="1.4" fill="none"/>
<text class="ab" x="474.20 481.00 487.80" y="221.00" font-size="7.8" text-anchor="middle" stroke="#000" stroke-width="0.45">***</text>
<text class="ab" x="493.60 500.40" y="231.70" font-size="7.8" text-anchor="middle" stroke="#000" stroke-width="0.45">**</text>
<text class="ab" x="533.50" y="231.70" font-size="7.8" text-anchor="middle" stroke="#000" stroke-width="0.45">*</text>
<text class="sb" x="597.3" y="222.3" font-size="21.5" text-anchor="start">g</text>
<path d="M630.00 221.40L630.00 324.30" stroke="#000" stroke-width="1.45" fill="none"/>
<text class="ab" x="624.8" y="326.40000000000003" font-size="7.9" text-anchor="end" stroke="#000" stroke-width="0.3">0.0</text>
<path d="M625.90 303.30L630.00 303.30" stroke="#000" stroke-width="1.4" fill="none"/>
<text class="ab" x="624.8" y="306.1" font-size="7.9" text-anchor="end" stroke="#000" stroke-width="0.3">0.2</text>
<path d="M625.90 283.00L630.00 283.00" stroke="#000" stroke-width="1.4" fill="none"/>
<text class="ab" x="624.8" y="285.8" font-size="7.9" text-anchor="end" stroke="#000" stroke-width="0.3">0.4</text>
<path d="M625.90 262.70L630.00 262.70" stroke="#000" stroke-width="1.4" fill="none"/>
<text class="ab" x="624.8" y="265.5" font-size="7.9" text-anchor="end" stroke="#000" stroke-width="0.3">0.6</text>
<path d="M625.90 242.40L630.00 242.40" stroke="#000" stroke-width="1.4" fill="none"/>
<text class="ab" x="624.8" y="245.20000000000002" font-size="7.9" text-anchor="end" stroke="#000" stroke-width="0.3">0.8</text>
<path d="M625.90 222.10L630.00 222.10" stroke="#000" stroke-width="1.4" fill="none"/>
<text class="ab" x="624.8" y="224.9" font-size="7.9" text-anchor="end" stroke="#000" stroke-width="0.3">1.0</text>
<text class="sb" font-size="8.3" text-anchor="middle" textLength="39.3" lengthAdjust="spacingAndGlyphs" stroke="#000" stroke-width="0.35" transform="translate(609.5 272.85) rotate(-90)">p-P65/P65</text>
<path d="M653.75 298.70L653.75 306.30" stroke="#000" stroke-width="1.4" fill="none"/>
<path d="M647.95 298.70L659.55 298.70" stroke="#000" stroke-width="1.4" fill="none"/>
<rect x="643.00" y="306.10" width="21.50" height="17.50" fill="#000000" stroke="#000" stroke-width="1.6"/>
<path d="M653.75 323.60L653.75 327.50" stroke="#000" stroke-width="1.3" fill="none"/>
<path d="M689.15 296.30L689.15 302.60" stroke="#000" stroke-width="1.4" fill="none"/>
<path d="M683.35 296.30L694.95 296.30" stroke="#000" stroke-width="1.4" fill="none"/>
<rect x="678.30" y="302.40" width="21.70" height="21.20" fill="#595959" stroke="#000" stroke-width="1.6"/>
<path d="M689.15 323.60L689.15 327.50" stroke="#000" stroke-width="1.3" fill="none"/>
<path d="M724.30 235.80L724.30 250.30" stroke="#000" stroke-width="1.4" fill="none"/>
<path d="M718.50 235.80L730.10 235.80" stroke="#000" stroke-width="1.4" fill="none"/>
<rect x="713.20" y="250.10" width="22.20" height="73.50" fill="#3c3c3c" stroke="#000" stroke-width="1.6"/>
<path d="M724.30 323.60L724.30 327.50" stroke="#000" stroke-width="1.3" fill="none"/>
<path d="M759.95 300.50L759.95 308.30" stroke="#000" stroke-width="1.4" fill="none"/>
<path d="M754.15 300.50L765.75 300.50" stroke="#000" stroke-width="1.4" fill="none"/>
<rect x="749.20" y="308.10" width="21.50" height="15.50" fill="#a4a4a4" stroke="#000" stroke-width="1.6"/>
<path d="M759.95 323.60L759.95 327.50" stroke="#000" stroke-width="1.3" fill="none"/>
<path d="M625.90 323.60L786.00 323.60" stroke="#000" stroke-width="1.6" fill="none"/>
<text class="sb" x="653.2" y="336.3" font-size="7.7" text-anchor="middle" stroke="#000" stroke-width="0.35">NT</text>
<text class="sb" x="688.5" y="336.3" font-size="7.7" text-anchor="middle" stroke="#000" stroke-width="0.35">NAM</text>
<text class="sb" x="724.0" y="336.3" font-size="7.7" text-anchor="middle" stroke="#000" stroke-width="0.35">LPS</text>
<text class="sb" x="759.7" y="336.3" font-size="7.7" text-anchor="middle" stroke="#000" stroke-width="0.35">L+N</text>
<path d="M672.5 233.2V227.7H720.6V233.0" stroke="#000" stroke-width="1.4" fill="none"/>
<path d="M727.0 233.0V227.7H760.0V233.2" stroke="#000" stroke-width="1.4" fill="none"/>
<path d="M653.50 239.90L685.70 239.90" stroke="#000" stroke-width="1.45" fill="none"/>
<text class="ab" x="689.90 696.70 703.50" y="228.40" font-size="7.8" text-anchor="middle" stroke="#000" stroke-width="0.45">***</text>
<text class="ab" x="738.40 745.20 752.00" y="228.40" font-size="7.8" text-anchor="middle" stroke="#000" stroke-width="0.45">***</text>
</svg></body></html>
